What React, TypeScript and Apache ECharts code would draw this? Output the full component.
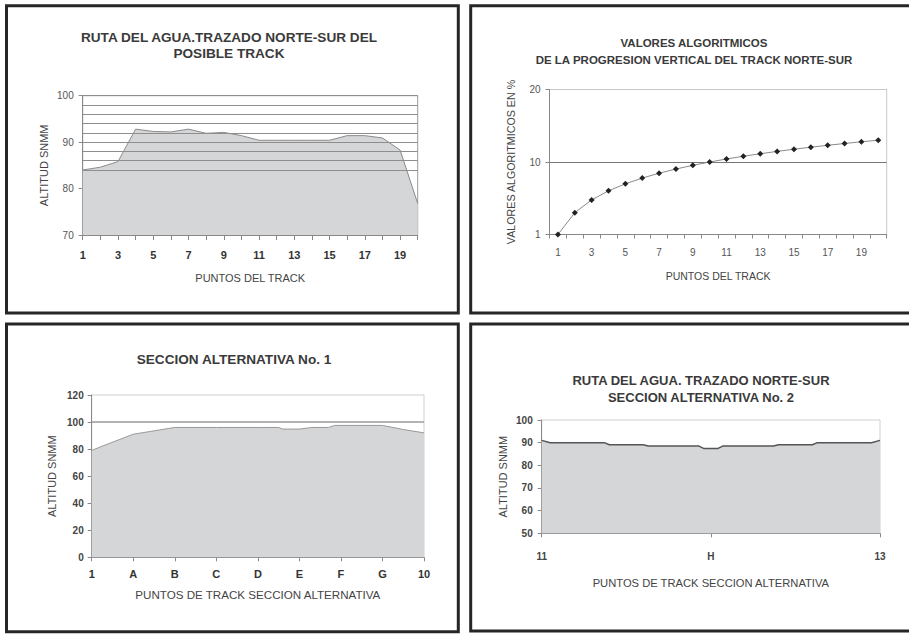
import React, { useEffect, useRef } from "react";
import * as echarts from "echarts";

const FONT = '"Liberation Sans", Arial, Helvetica, sans-serif';

// ---- Chart 1: Ruta del agua, trazado norte-sur del posible track
const c1Categories = ["1", "2", "3", "4", "5", "6", "7", "8", "9", "10", "11", "12", "13", "14", "15", "16", "17", "18", "19", "20"];
const c1Altitude = [84.0, 84.6, 85.8, 92.8, 92.3, 92.2, 92.8, 91.9, 92.1, 91.4, 90.4, 90.4, 90.4, 90.4, 90.4, 91.4, 91.4, 90.9, 88.3, 76.8];
const c1GridLevels = [84, 86, 88, 90, 92, 94, 96, 98, 100];

// ---- Chart 2: Valores algoritmicos
const c2Categories = ["1", "2", "3", "4", "5", "6", "7", "8", "9", "10", "11", "12", "13", "14", "15", "16", "17", "18", "19", "20"];
const c2Values = [1, 2, 3, 4, 5, 6, 7, 8, 9, 10, 11, 12, 13, 14, 15, 16, 17, 18, 19, 20];
const c2YTickLabels = ["1", "10", "20"];

// ---- Chart 3: Seccion alternativa No. 1
const c3Labels = ["1", "A", "B", "C", "D", "E", "F", "G", "10"];
const c3X = [0, 0.2, 1, 1.4, 2, 3, 4, 4.5, 4.6, 5, 5.3, 5.7, 5.85, 7, 7.5, 8];
const c3Y = [79, 81.5, 91, 93, 96, 96, 96, 96, 94.8, 94.8, 96, 96, 97.5, 97.5, 94.5, 92];
const c3RefLevels = [100];

// ---- Chart 4: Seccion alternativa No. 2
const c4Labels = ["11", "H", "13"];
const c4X = [0, 0.05, 0.37, 0.4, 0.6, 0.63, 0.93, 0.96, 1.04, 1.07, 1.37, 1.4, 1.6, 1.63, 1.95, 2];
const c4Y = [91, 90, 90, 89.1, 89.1, 88.5, 88.5, 87.4, 87.4, 88.5, 88.5, 89.1, 89.1, 90, 90, 91];

const AREA = "#d5d6d8";

function titleOpt(text: string, left: number, top: number, fontSize: number, lineHeight: number) {
  return {
    text,
    left,
    top,
    textAlign: "center",
    padding: 0,
    textStyle: { fontSize, fontWeight: "bold", color: "#3a3a3a", lineHeight, fontFamily: FONT },
  };
}

function axisName(fontSize: number) {
  return { fontSize, color: "#444", fontFamily: FONT };
}

export default function App() {
  const ref = useRef<HTMLDivElement>(null);
  useEffect(() => {
    if (!ref.current) return;
    const chart = echarts.init(ref.current, undefined, { renderer: "svg" });
    const lineAxis = { show: true, lineStyle: { color: "#888", width: 1 } };
    const option: any = {
      animation: false,
      backgroundColor: "#ffffff",
      textStyle: { fontFamily: FONT },
      title: [
        titleOpt("RUTA DEL AGUA.TRAZADO NORTE-SUR DEL\nPOSIBLE TRACK", 229, 29.2, 13.6, 16.5),
        titleOpt("VALORES ALGORITMICOS\nDE LA PROGRESION VERTICAL DEL TRACK NORTE-SUR", 694, 35, 11.5, 16.7),
        titleOpt("SECCION ALTERNATIVA No. 1", 234, 351, 13.6, 16),
        titleOpt("RUTA DEL AGUA. TRAZADO NORTE-SUR\nSECCION ALTERNATIVA No. 2", 701, 372.6, 13, 16.7),
      ],
      grid: [
        { left: 82.7, top: 95.7, width: 335, height: 139.3, show: true, borderColor: "#999", borderWidth: 1, backgroundColor: "transparent", outerBoundsMode: "none" },
        { left: 549.5, top: 89.5, width: 337.2, height: 145, show: true, borderColor: "#c8c8c8", borderWidth: 1, backgroundColor: "transparent", outerBoundsMode: "none" },
        { left: 91.7, top: 395, width: 332.3, height: 162.3, show: true, borderColor: "#cfcfcf", borderWidth: 1, backgroundColor: "transparent", outerBoundsMode: "none" },
        { left: 541.7, top: 420, width: 338.3, height: 113.3, show: true, borderColor: "#cfcfcf", borderWidth: 1, backgroundColor: "transparent", outerBoundsMode: "none" },
      ],
      xAxis: [
        {
          type: "category", gridIndex: 0, data: c1Categories, boundaryGap: false,
          axisLine: lineAxis,
          axisTick: { show: true, interval: 0, length: 5, lineStyle: { color: "#888" } },
          axisLabel: { interval: 1, margin: 14, fontSize: 11, fontWeight: "bold", color: "#333" },
          splitLine: { show: false },
          name: "PUNTOS DEL TRACK", nameLocation: "middle", nameGap: 37, nameTextStyle: axisName(11),
        },
        {
          type: "category", gridIndex: 1, data: c2Categories, boundaryGap: true,
          axisLine: lineAxis,
          axisTick: { show: true, interval: 0, length: 4, lineStyle: { color: "#888" } },
          axisLabel: { interval: 1, margin: 13, fontSize: 10, color: "#555" },
          splitLine: { show: false },
          name: "PUNTOS DEL TRACK", nameLocation: "middle", nameGap: 35.5, nameTextStyle: axisName(10.5),
        },
        {
          type: "value", gridIndex: 2, min: 0, max: 8, interval: 1,
          axisLine: lineAxis,
          axisTick: { show: true, length: 4, lineStyle: { color: "#888" } },
          axisLabel: { margin: 11, fontSize: 11, fontWeight: "bold", color: "#333", formatter: (v: number) => c3Labels[Math.round(v)] ?? "" },
          splitLine: { show: false },
          name: "PUNTOS DE TRACK SECCION ALTERNATIVA", nameLocation: "middle", nameGap: 31.5, nameTextStyle: axisName(11.6),
        },
        {
          type: "value", gridIndex: 3, min: 0, max: 2, interval: 1,
          axisLine: lineAxis,
          axisTick: { show: true, length: 4, lineStyle: { color: "#888" } },
          axisLabel: { margin: 18, fontSize: 10, fontWeight: "bold", color: "#444", formatter: (v: number) => c4Labels[Math.round(v)] ?? "" },
          splitLine: { show: false },
          name: "PUNTOS DE TRACK SECCION ALTERNATIVA", nameLocation: "middle", nameGap: 44.5, nameTextStyle: axisName(11.2),
        },
      ],
      yAxis: [
        {
          type: "value", gridIndex: 0, min: 70, max: 100, interval: 10,
          axisLine: lineAxis,
          axisTick: { show: true, length: 4, lineStyle: { color: "#888" } },
          axisLabel: { margin: 9, fontSize: 10, color: "#555" },
          splitLine: { show: false },
          name: "ALTITUD SNMM", nameLocation: "middle", nameGap: 33, nameTextStyle: axisName(11),
        },
        {
          type: "log", logBase: 10, gridIndex: 1, min: 1, max: 100,
          axisLine: lineAxis,
          axisTick: { show: true, length: 4, lineStyle: { color: "#888" } },
          axisLabel: { margin: 9, fontSize: 10, color: "#555", formatter: (v: number) => c2YTickLabels[Math.round(Math.log10(v))] ?? "" },
          splitLine: { show: true, lineStyle: { color: ["#999", "#777", "#c8c8c8"], width: 1 } },
          minorSplitLine: { show: false },
          name: "VALORES ALGORITMICOS EN %", nameLocation: "middle", nameGap: 33, nameTextStyle: axisName(10.7),
        },
        {
          type: "value", gridIndex: 2, min: 0, max: 120, interval: 20,
          axisLine: lineAxis,
          axisTick: { show: true, length: 4, lineStyle: { color: "#888" } },
          axisLabel: { margin: 8, fontSize: 10, fontWeight: "bold", color: "#444" },
          splitLine: { show: false },
          name: "ALTITUD SNMM", nameLocation: "middle", nameGap: 34.5, nameTextStyle: axisName(11),
        },
        {
          type: "value", gridIndex: 3, min: 50, max: 100, interval: 10,
          axisLine: lineAxis,
          axisTick: { show: true, length: 4, lineStyle: { color: "#888" } },
          axisLabel: { margin: 9, fontSize: 10, fontWeight: "bold", color: "#444" },
          splitLine: { show: false },
          name: "ALTITUD SNMM", nameLocation: "middle", nameGap: 33.5, nameTextStyle: axisName(11),
        },
      ],
      series: [
        {
          type: "line", xAxisIndex: 0, yAxisIndex: 0, data: c1Altitude, symbol: "none",
          lineStyle: { color: "#8a8a8a", width: 1 },
          areaStyle: { color: AREA, opacity: 1, origin: "start" },
          markLine: {
            silent: true, symbol: ["none", "none"], label: { show: false }, z: 5,
            lineStyle: { color: "#8e8e8e", width: 1, type: "solid" },
            data: c1GridLevels.map((v) => ({ yAxis: v })),
          },
        },
        {
          type: "line", xAxisIndex: 1, yAxisIndex: 1, data: c2Values,
          symbol: "diamond", symbolSize: 6,
          itemStyle: { color: "#222" },
          lineStyle: { color: "#8a8a8a", width: 1 },
        },
        {
          type: "line", xAxisIndex: 2, yAxisIndex: 2, data: c3X.map((x, i) => [x, c3Y[i]]), symbol: "none",
          lineStyle: { color: "#999", width: 1 },
          areaStyle: { color: AREA, opacity: 1, origin: "start" },
          markLine: {
            silent: true, symbol: ["none", "none"], label: { show: false },
            lineStyle: { color: "#9a9a9a", width: 1.5, type: "solid" },
            data: c3RefLevels.map((v) => ({ yAxis: v })),
          },
        },
        {
          type: "line", xAxisIndex: 3, yAxisIndex: 3, data: c4X.map((x, i) => [x, c4Y[i]]), symbol: "none",
          lineStyle: { color: "#555", width: 1.5 },
          areaStyle: { color: AREA, opacity: 1, origin: "start" },
        },
      ],
      graphic: [
        { type: "rect", shape: { x: 6.5, y: 5.7, width: 451.8, height: 307.3 }, style: { fill: "none", stroke: "#262626", lineWidth: 3 }, silent: true },
        { type: "rect", shape: { x: 470.7, y: 5.7, width: 460, height: 307.3 }, style: { fill: "none", stroke: "#262626", lineWidth: 3 }, silent: true },
        { type: "rect", shape: { x: 6.5, y: 324, width: 451.8, height: 307.7 }, style: { fill: "none", stroke: "#262626", lineWidth: 3 }, silent: true },
        { type: "rect", shape: { x: 470.7, y: 324, width: 460, height: 307 }, style: { fill: "none", stroke: "#262626", lineWidth: 3 }, silent: true },
      ],
    };
    chart.setOption(option);
    return () => chart.dispose();
  }, []);
  return <div ref={ref} style={{ position: "fixed", left: 0, top: 0, width: 909, height: 634, background: "#fff" }} />;
}
